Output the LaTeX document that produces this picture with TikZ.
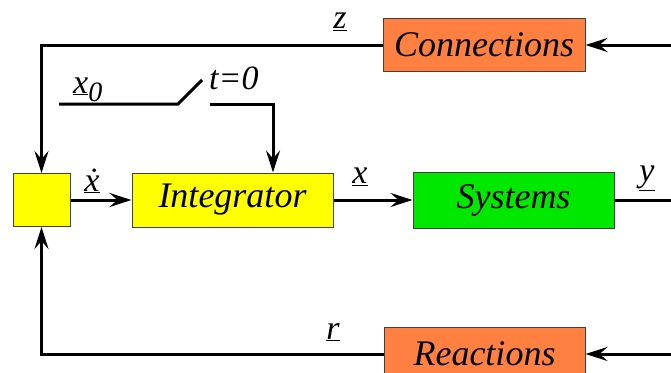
\documentclass[tikz,border=0pt]{standalone}
\usepackage{fontspec}
\setmainfont{Liberation Serif}
\usetikzlibrary{arrows.meta}
\definecolor{boxyellow}{RGB}{255,255,0}
\definecolor{boxgreen}{RGB}{0,232,0}
\definecolor{boxorange}{RGB}{255,128,64}
\tikzset{
  blk/.style={draw=black!75, line width=1pt, inner sep=0pt, font=\fontsize{36}{40}\selectfont\itshape},
  wire/.style={line width=3pt},
  arr/.style={wire, -{Stealth[length=22pt,width=14pt,inset=8pt]}},
  lbl/.style={inner sep=0pt, font=\fontsize{34}{38}\selectfont\itshape}
}
\begin{document}
\begin{tikzpicture}[x=1pt,y=-1pt]
\useasboundingbox (0,0) rectangle (671,372);
\clip (0,0) rectangle (671,372);
\node[blk, fill=boxyellow, minimum width=57pt, minimum height=53pt] (sum) at (41.5,200) {};
\node[blk, fill=boxyellow, minimum width=201pt, minimum height=54pt] (int) at (232.5,200) {Integrator};
\node[blk, fill=boxgreen, minimum width=201pt, minimum height=56pt] (sys) at (513.5,200) {Systems};
\node[blk, fill=boxorange, minimum width=202pt, minimum height=53pt] (con) at (484,45) {Connections};
\node[blk, fill=boxorange, minimum width=201pt, minimum height=54pt] (rea) at (484.5,354) {Reactions};
\coordinate (cin) at (671,45);
\coordinate (rin) at (671,354);
\coordinate (yout) at (671,200);
\coordinate (xs) at (59,104);
\coordinate (sw) at (178,104);
\coordinate (swtip) at (202,80);
\coordinate (sc) at (210,104);
% connectors
\draw[arr] (cin) -- (con.east);
\draw[arr] (rin) -- (rea.east);
\draw[arr] (con.west) -| (sum.north);
\draw[arr] (rea.west) -| (sum.south);
\draw[arr] (sum.east) -- (int.west);
\draw[arr] (int.east) -- (sys.west);
\draw[wire] (sys.east) -- (yout);
\draw[wire] (xs) -- (sw) -- (swtip);
\draw[arr] (sc) -| (int.north -| 273,0);
% labels
\node[lbl] (lz) at (340,22) {\underline{z}};
\node[lbl] (lx) at (360,177) {\underline{x}};
\node[lbl] (ly) at (647,178) {\underline{y}};
\node[lbl] (lr) at (333,332) {\underline{r}};
\node[lbl] (lxd) at (92,181) {\underline{\.{x}}};
\node[lbl, anchor=base west] (lx0) at (73,93) {\underline{x}\raisebox{-8pt}{\fontsize{28}{30}\selectfont 0}};
\node[lbl, anchor=base west] (lt) at (209,89) {t=0};
\end{tikzpicture}
\end{document}
